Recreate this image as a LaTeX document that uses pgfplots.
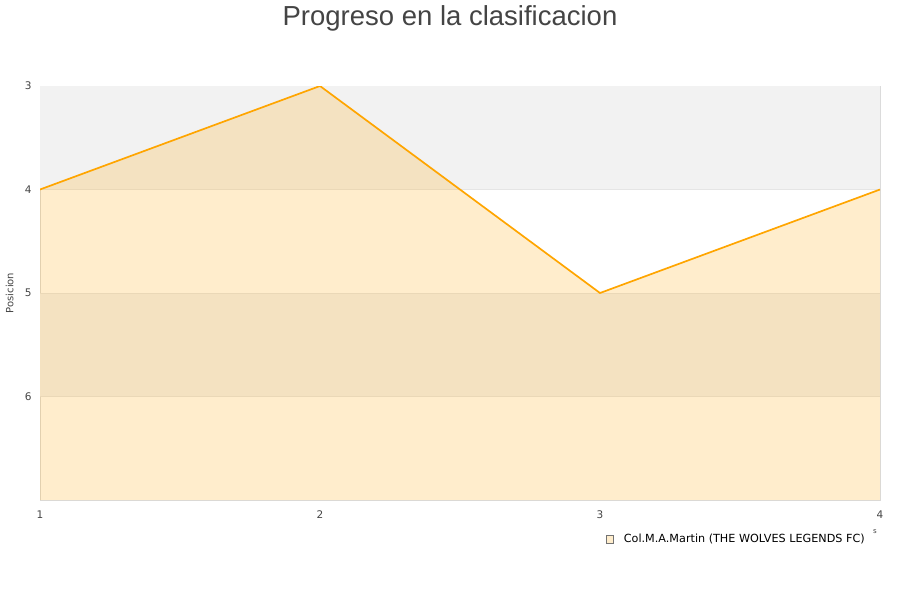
\documentclass[border=0pt]{standalone}
\usepackage{pgfplots}
\pgfplotsset{compat=1.18}
\usepackage{fontspec}
\setmainfont{DejaVu Sans}
\newfontfamily\titlefont{Liberation Sans}
\definecolor{bandgray}{HTML}{F2F2F2}
\definecolor{lineorange}{HTML}{FFA500}
\definecolor{txt}{HTML}{444444}
\begin{document}
\begin{tikzpicture}
\path[use as bounding box] (0,0) rectangle (900pt,600pt);
\node[font=\titlefont\fontsize{27.5}{30}\selectfont, text=txt] at (450pt,582pt) {Progreso en la clasificacion};
\begin{axis}[
  at={(40pt,100pt)}, anchor=south west,
  scale only axis, width=840pt, height=414pt,
  xmin=1, xmax=4, ymin=3, ymax=7,
  y dir=reverse,
  xtick={1,2,3,4}, ytick={3,4,5,6},
  /pgf/number format/assume math mode=true,
  tick label style={font=\fontsize{10.5}{12}\selectfont, text=txt},
  major tick length=0pt,
  axis line style={draw=black!14},
  ylabel={Posicion},
  ylabel style={font=\fontsize{10}{12}\selectfont, text=txt, at={(axis description cs:-0.036,0.5)}, anchor=center},
  xticklabel style={yshift=-7pt},
  yticklabel style={xshift=-5pt},
  legend style={at={(0.988,-0.073)}, anchor=north east, draw=none, fill=none,
     font=\fontsize{11.2}{13}\selectfont},
  legend cell align=left,
  axis on top=false,
]
\addplot[fill=bandgray, draw=none, forget plot] coordinates {(1,3) (4,3) (4,4) (1,4)} -- cycle;
\addplot[fill=bandgray, draw=none, forget plot] coordinates {(1,5) (4,5) (4,6) (1,6)} -- cycle;
\addplot[draw=black!10, line width=0.5pt, forget plot] coordinates {(1,4) (4,4)};
\addplot[draw=black!10, line width=0.5pt, forget plot] coordinates {(1,5) (4,5)};
\addplot[draw=black!10, line width=0.5pt, forget plot] coordinates {(1,6) (4,6)};
\addplot[fill=lineorange, fill opacity=0.2, draw=none, forget plot] coordinates {(1,4) (2,3) (3,5) (4,4) (4,7) (1,7)} -- cycle;
\addplot[draw=lineorange, line width=1.7pt, mark=none,
  legend image code/.code={\draw[fill=lineorange!20, draw=black!55, line width=0.4pt] (0pt,-3.8pt) rectangle (7.6pt,3.8pt);}]
  coordinates {(1,4) (2,3) (3,5) (4,4)};
\addlegendentry{\hspace*{8pt}Col.M.A.Martin (THE WOLVES LEGENDS FC)}
\end{axis}
\node[font=\fontsize{7}{8}\selectfont, text=txt] at (875pt,68pt) {s};
\end{tikzpicture}
\end{document}
